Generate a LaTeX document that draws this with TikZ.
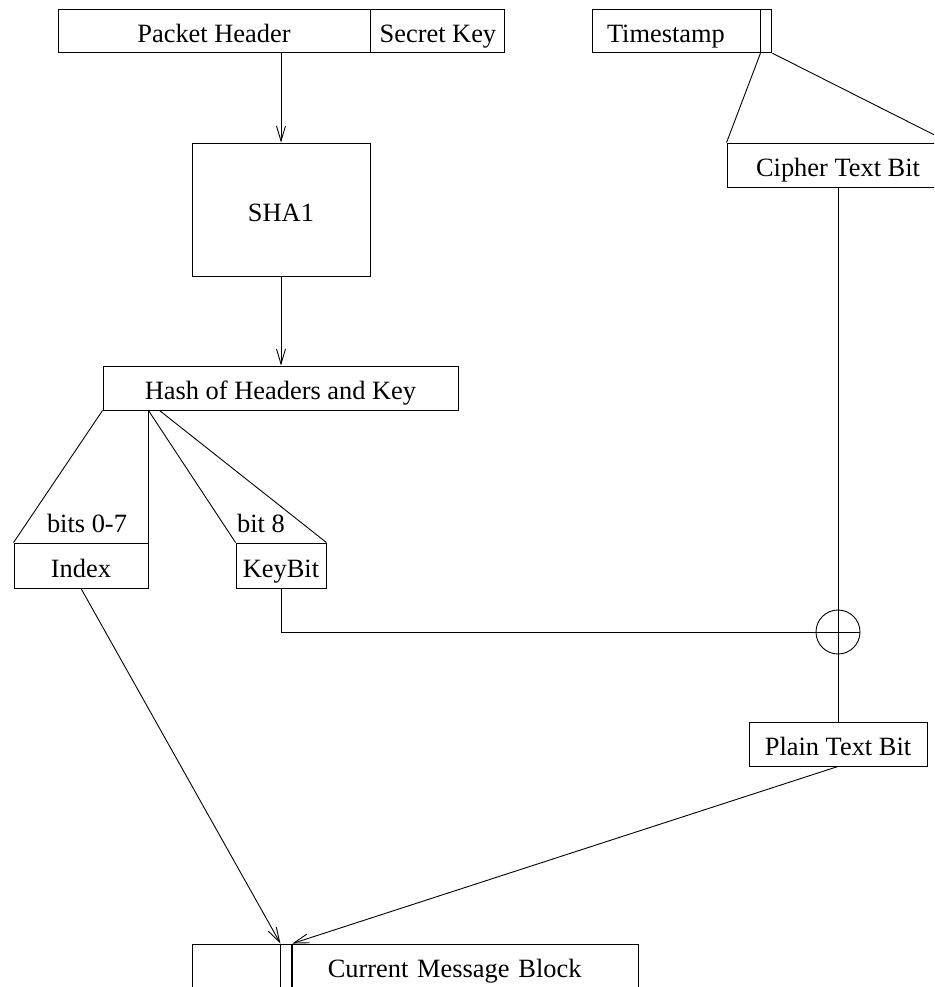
\documentclass[tikz,border=0pt]{standalone}
\usepackage{fontspec}
\setmainfont{Liberation Serif}
\usepackage{tikz}
\usetikzlibrary{positioning,arrows.meta,calc}

\begin{document}
\begin{tikzpicture}[x = 1pt, y = -1pt, line width = 0.9pt,
                    every node/.append style = {font = \fontsize{26.4}{30}\selectfont, text height = 23, text depth = 0},
                    field/.style = {draw, rectangle, inner sep = 0pt, minimum height = 44},
                    flow/.style = {-{Straight Barb[length=15pt,width=9pt]}}]
    \useasboundingbox (0,0) rectangle (934,987);
    \clip (0,0) rectangle (934,987);
    % header and key
    \node[field, minimum width = 312, minimum height = 43.5] (ph) at (214,31) {Packet Header};
    \node[field, minimum width = 134, minimum height = 43.5, right = 0pt of ph] (sk) {Secret Key};
    \node[field, minimum width = 178, minimum height = 133] (sha) at (281,209.5) {SHA1};
    \node[field, minimum width = 355] (hash) at (280.5,388) {Hash of Headers and Key};
    \node[field, minimum width = 134, minimum height = 45] (idx) at (81,565.5) {Index};
    \node[field, minimum width = 90, minimum height = 45] (kb) at (281,565.5) {KeyBit};
    \node (lbits) at (87,521) {bits 0-7};
    \node (lbit) at (261,521) {bit 8};
    % timestamp side
    \node[field, minimum height = 43.5, text width = 138, inner xsep = 15, align = left] (ts) at (676,31) {Timestamp};
    \node[field, minimum width = 11, minimum height = 43.5, right = 0pt of ts] (tsb) {};
    \node[field, minimum width = 222] (cipher) at (838,165) {Cipher Text Bit};
    \node[draw, circle, minimum size = 44, inner sep = 0pt, text height = 0] (xor) at (838,632) {};
    \node[field, minimum width = 178] (pt) at (838,744) {Plain Text Bit};
    % message block
    \node[field, minimum width = 88] (m0) at (236,966) {};
    \node[field, minimum width = 11, right = 0pt of m0] (m1) {};
    \node[field, text width = 276, inner xsep = 35, align = left, right = 0pt of m1] (m2) {Current Message Block};

    \coordinate (h7) at (idx.north east |- hash.south);
    \coordinate (h8) at ($(h7) + (11,0)$);
    \draw[flow] (sha.north |- ph.south) -- (sha.north);
    \draw[flow] (sha.south) -- (sha.south |- hash.north);
    \draw (hash.south west) -- (idx.north west);
    \draw (h7) -- (idx.north east);
    \draw (h7) -- (kb.north west);
    \draw (h8) -- (kb.north east);
    \draw (tsb.south west) -- (cipher.north west);
    \draw (tsb.south east) -- (cipher.north east);
    \draw (cipher.south) -- (pt.north);
    \draw (kb.south) |- (xor.east);
    \draw[flow] (idx.south) -- (m1.north west);
    \draw[flow] (pt.south) -- (m1.north east);
\end{tikzpicture}
\end{document}
